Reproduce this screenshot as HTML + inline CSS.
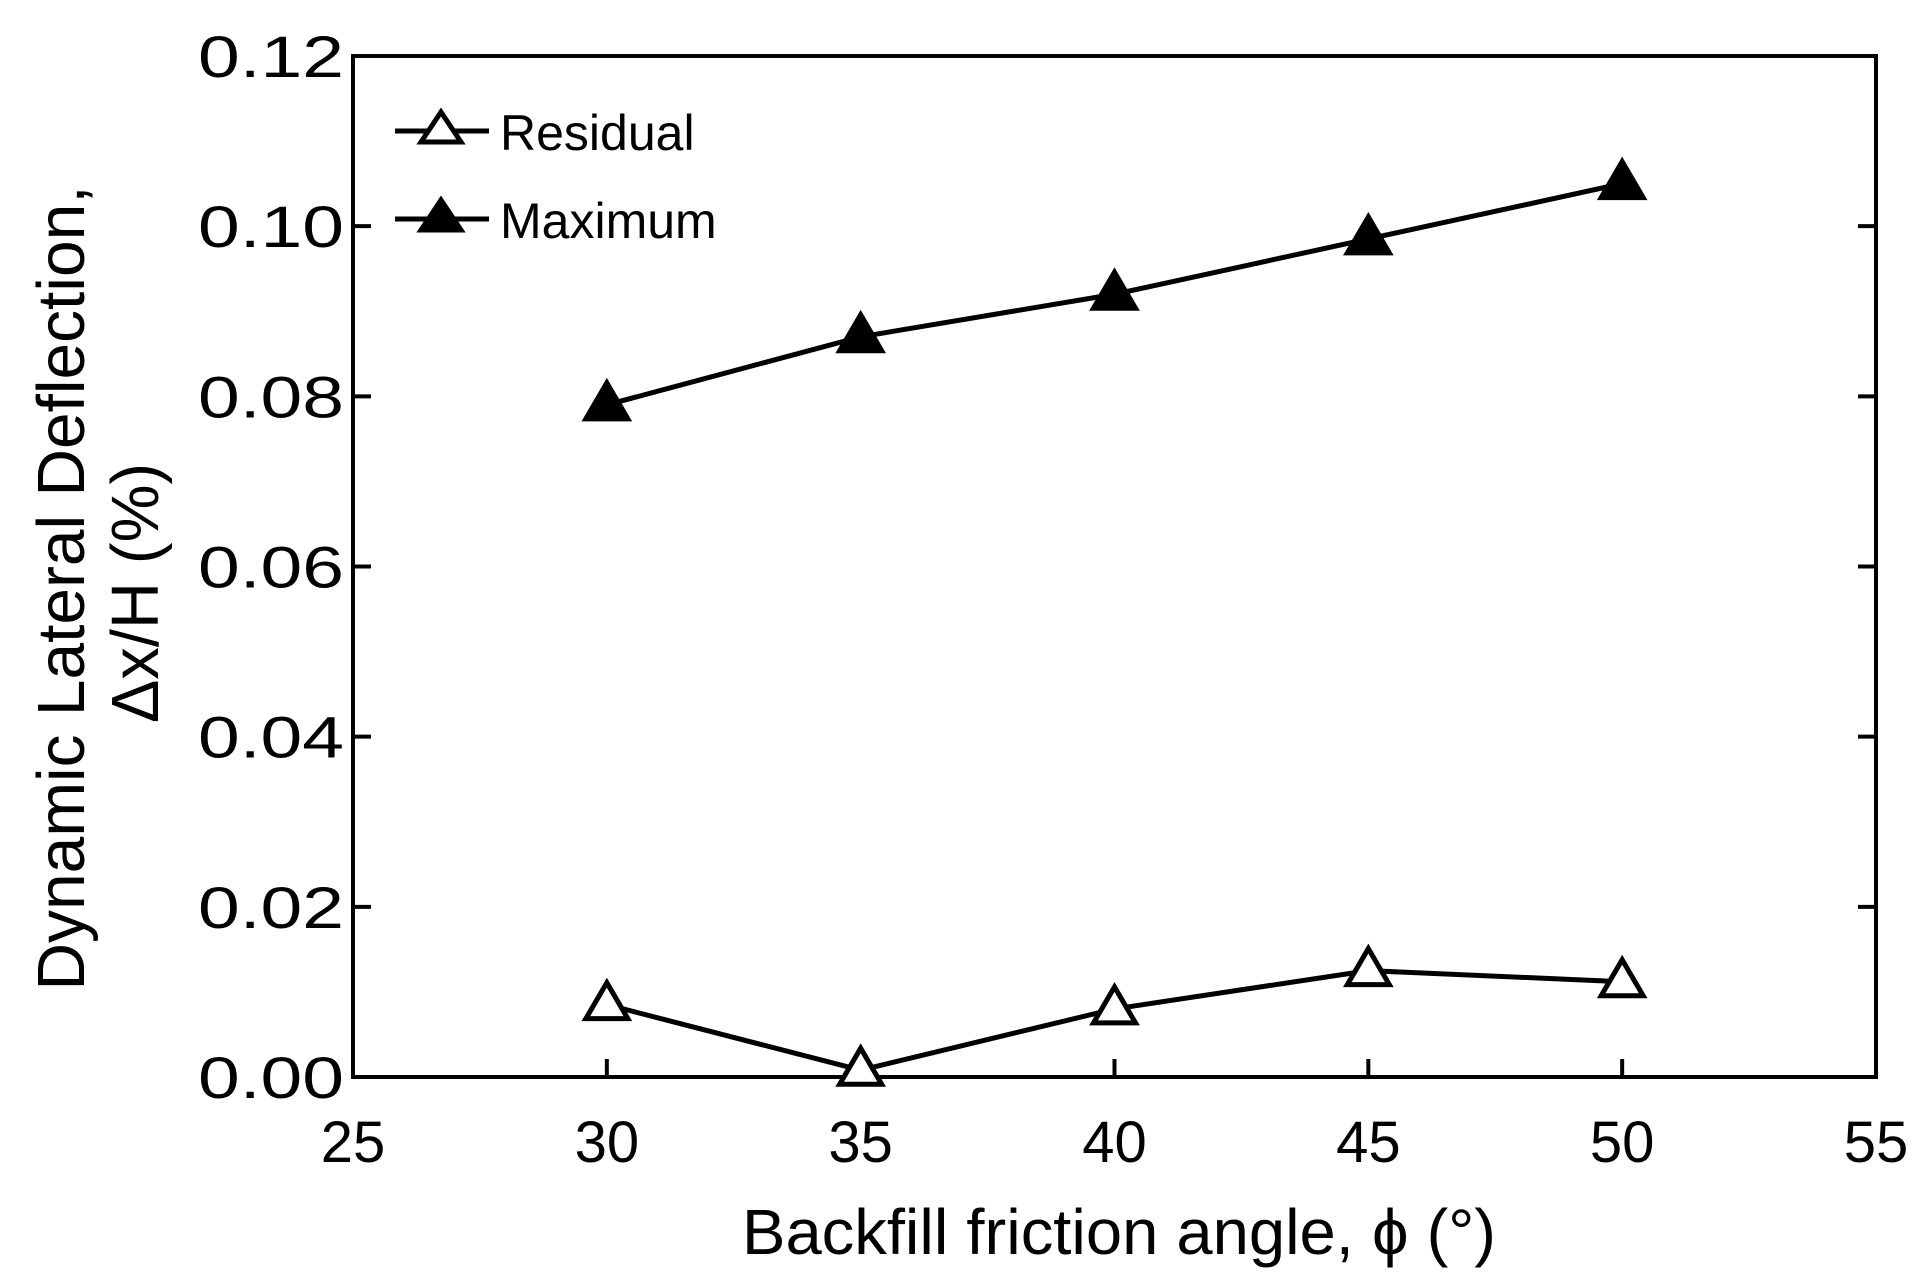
<!DOCTYPE html>
<html><head><meta charset="utf-8"><style>
html,body{margin:0;padding:0;background:#fff;}
svg{display:block;}
text{font-family:"Liberation Sans",Arial,sans-serif;fill:#000;}
</style></head><body>
<svg id="chart" width="1928" height="1283" viewBox="0 0 1928 1283" xmlns="http://www.w3.org/2000/svg">
<g id="axes"></g>
<g id="series"></g>
<text x="1119" y="1254" font-size="64" text-anchor="middle" textLength="754" lengthAdjust="spacingAndGlyphs">Backfill friction angle, ϕ (°)</text>
<text transform="translate(84,588) rotate(-90)" font-size="67" text-anchor="middle" textLength="805" lengthAdjust="spacingAndGlyphs">Dynamic Lateral Deflection,</text>
<text transform="translate(158,593) rotate(-90)" font-size="67" text-anchor="middle" textLength="260" lengthAdjust="spacingAndGlyphs">Δx/H (%)</text>
<g id="legend">
  <g>
    <line x1="395" y1="131" x2="489" y2="131" stroke="#000" stroke-width="5"/>
    <polygon points="441,112 461,142 421,142" fill="#fff" stroke="#000" stroke-width="5"/>
    <text x="500" y="150" font-size="50">Residual</text>
  </g>
  <g>
    <line x1="395" y1="219" x2="489" y2="219" stroke="#000" stroke-width="5"/>
    <polygon points="441,200 461,230 421,230" fill="#000" stroke="#000" stroke-width="5"/>
    <text x="500" y="238" font-size="50">Maximum</text>
  </g>
</g>
</svg>
<script>
const categories = [30, 35, 40, 45, 50];
const residualValues = [0.0085, 0.0008, 0.008, 0.0125, 0.0112];
const maximumValues = [0.079, 0.087, 0.092, 0.0985, 0.105];
const xTickLabels = [25, 30, 35, 40, 45, 50, 55];
const yTickLabels = ["0.00", "0.02", "0.04", "0.06", "0.08", "0.10", "0.12"];

const L = 353, R = 1876, T = 56, B = 1077;
const xMin = 25, xMax = 55, yMin = 0, yMax = 0.12;
const xs = v => L + (v - xMin) / (xMax - xMin) * (R - L);
const ys = v => B - (v - yMin) / (yMax - yMin) * (B - T);
const NS = "http://www.w3.org/2000/svg";
function mk(tag, attrs, parent) {
  const e = document.createElementNS(NS, tag);
  for (const k in attrs) e.setAttribute(k, attrs[k]);
  parent.appendChild(e);
  return e;
}
const axes = document.getElementById('axes');
const frame = mk('rect', {x: L, y: T, width: R - L, height: B - T, fill: 'none', stroke: '#000', 'stroke-width': 4}, axes);



xTickLabels.forEach(v => {
  const x = xs(v);
  if (v > xMin && v < xMax) {
    const t = mk('line', {x1: x, y1: B, x2: x, y2: B - 18, stroke: '#000', 'stroke-width': 4}, axes);
    
    
  }
  const lb = mk('text', {x: x, y: 1162, 'font-size': 58, 'text-anchor': 'middle'}, axes);
  lb.textContent = v;
  
  
});
yTickLabels.forEach(s => {
  const v = parseFloat(s);
  const y = ys(v);
  if (v > yMin && v < yMax) {
    const t1 = mk('line', {x1: L, y1: y, x2: L + 18, y2: y, stroke: '#000', 'stroke-width': 4}, axes);
    
    
    const t2 = mk('line', {x1: R, y1: y, x2: R - 18, y2: y, stroke: '#000', 'stroke-width': 4}, axes);
    
    
  }
  const lb = mk('text', {x: 198, y: y + 21, 'font-size': 58, textLength: 146, lengthAdjust: 'spacingAndGlyphs'}, axes);
  lb.textContent = s;
  
  
});

const series = document.getElementById('series');
function drawSeries(vals, fill, name) {
  const g = mk('g', {}, series);
  
  
  const pts = categories.map((c, i) => xs(c) + ',' + ys(vals[i])).join(' ');
  const pl = mk('polyline', {points: pts, fill: 'none', stroke: '#000', 'stroke-width': 5}, g);
  
  
  categories.forEach((c, i) => {
    const x = xs(c), y = ys(vals[i]);
    const p = mk('polygon', {points: `${x},${y - 22} ${x + 21},${y + 14} ${x - 21},${y + 14}`, fill: fill, stroke: '#000', 'stroke-width': 5}, g);
    
    
  });
}
drawSeries(residualValues, '#fff', 'residual');
drawSeries(maximumValues, '#000', 'maximum');
</script>
</body></html>
